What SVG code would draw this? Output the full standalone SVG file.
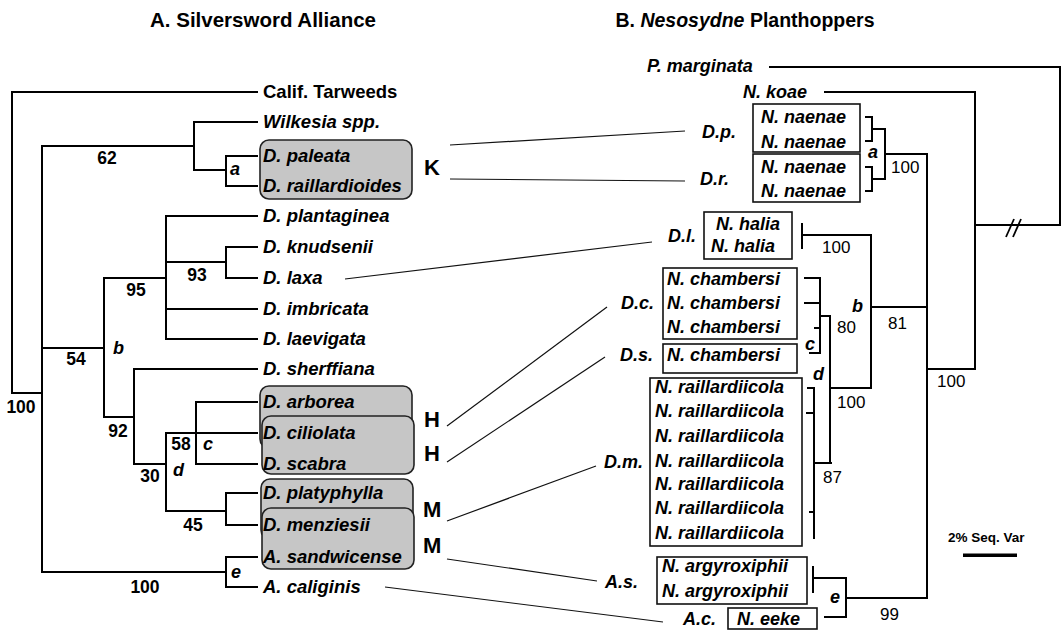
<svg xmlns="http://www.w3.org/2000/svg" width="1062" height="630" viewBox="0 0 1062 630">
<style>
text{font-family:"Liberation Sans",Arial,Helvetica,sans-serif;fill:#000}
.t{font-size:18.5px;font-weight:bold;font-style:italic}
.tn{font-size:18.5px;font-weight:bold}
.r{font-size:18px;font-weight:bold;font-style:italic}
.num{font-size:17.5px;font-weight:bold}
.rn{font-size:17px}
.lt{font-size:18px;font-weight:bold;font-style:italic}
.big{font-size:22px;font-weight:bold}
.ttl{font-size:20.5px;font-weight:bold}
.ttlb{font-size:19.5px;font-weight:bold}
.tree{fill:none;stroke:#000;stroke-width:2;stroke-linecap:square}
.conn{fill:none;stroke:#111;stroke-width:1.2}
.gbox{fill:#c6c6c6;stroke:#222;stroke-width:1.6}
.wbox{fill:#fff;stroke:#111;stroke-width:1.6}
</style>
<rect width="1062" height="630" fill="#fff"/>
<g id="titles">
<text class="ttl" x="263" y="27" text-anchor="middle">A. Silversword Alliance</text>
<text class="ttlb" x="745" y="27" text-anchor="middle">B. <tspan font-style="italic">Nesosydne</tspan> Planthoppers</text>
</g>
<g id="left-boxes">
<rect id="boxK" class="gbox" x="260" y="140" width="152" height="59" rx="9"/>
<rect id="boxH1" class="gbox" x="260" y="386" width="152" height="62" rx="9"/>
<rect id="boxH2" class="gbox" x="262" y="416" width="152" height="58" rx="9"/>
<rect id="boxM1" class="gbox" x="261" y="479" width="152" height="60" rx="9"/>
<rect id="boxM2" class="gbox" x="262" y="508" width="152" height="61" rx="9"/>
</g>
<g id="left-tree" class="tree">
<path d="M12 92V393M12 92H257M12 393H42M42 146V572"/>
<path d="M42 146H194M194 122V170M194 122H257M194 170H226M226 156V186M226 156H257M226 186H257"/>
<path d="M42 348H104M104 278V417M104 278H166M166 216V339M166 216H257M166 309H257M166 339H257M166 262H226M226 247V278M226 247H257M226 278H257"/>
<path d="M104 417H134M134 369V464M134 369H257M134 464H166M166 433V511M166 433H257M196 402V464M196 402H257M196 464H257M166 511H226M226 493V525M226 493H257M226 525H257"/>
<path d="M42 572H226M226 557V587M226 557H257M226 587H257"/>
</g>
<g id="left-labels">
<g id="calif"><text class="tn" x="263" y="98">Calif. Tarweeds</text></g>
<g id="wilkesia"><text class="t" x="263" y="128">Wilkesia spp.</text></g>
<g id="paleata"><text class="t" x="263" y="162">D. paleata</text></g>
<g id="raillardioides"><text class="t" x="263" y="192">D. raillardioides</text></g>
<g id="plantaginea"><text class="t" x="263" y="222">D. plantaginea</text></g>
<g id="knudsenii"><text class="t" x="263" y="253">D. knudsenii</text></g>
<g id="laxa"><text class="t" x="263" y="284">D. laxa</text></g>
<g id="imbricata"><text class="t" x="263" y="315">D. imbricata</text></g>
<g id="laevigata"><text class="t" x="263" y="345">D. laevigata</text></g>
<g id="sherffiana"><text class="t" x="263" y="375">D. sherffiana</text></g>
<g id="arborea"><text class="t" x="263" y="408">D. arborea</text></g>
<g id="ciliolata"><text class="t" x="263" y="439">D. ciliolata</text></g>
<g id="scabra"><text class="t" x="263" y="470">D. scabra</text></g>
<g id="platyphylla"><text class="t" x="263" y="499">D. platyphylla</text></g>
<g id="menziesii"><text class="t" x="263" y="531">D. menziesii</text></g>
<g id="sandwicense"><text class="t" x="263" y="563">A. sandwicense</text></g>
<g id="caliginis"><text class="t" x="263" y="593">A. caliginis</text></g>
</g>
<g id="left-support">
<text class="num" x="107" y="164" text-anchor="middle">62</text>
<text class="num" x="197" y="281" text-anchor="middle">93</text>
<text class="num" x="136" y="296" text-anchor="middle">95</text>
<text class="num" x="76" y="365" text-anchor="middle">54</text>
<text class="num" x="21" y="413" text-anchor="middle">100</text>
<text class="num" x="118" y="437" text-anchor="middle">92</text>
<text class="num" x="181" y="450" text-anchor="middle">58</text>
<text class="num" x="150" y="482" text-anchor="middle">30</text>
<text class="num" x="193" y="531" text-anchor="middle">45</text>
<text class="num" x="145" y="593" text-anchor="middle">100</text>
<text class="lt" x="230" y="175">a</text>
<text class="lt" x="113" y="354">b</text>
<text class="lt" x="203" y="450">c</text>
<text class="lt" x="173" y="476">d</text>
<text class="lt" x="231" y="578">e</text>
</g>
<g id="island-labels">
<g id="K"><text class="big" x="424" y="175">K</text></g>
<g id="H1"><text class="big" x="424" y="427">H</text></g>
<g id="H2"><text class="big" x="424" y="461">H</text></g>
<g id="M1"><text class="big" x="423" y="517">M</text></g>
<g id="M2"><text class="big" x="423" y="553">M</text></g>
</g>
<g id="connectors" class="conn">
<line x1="450" y1="145" x2="685" y2="131"/>
<line x1="450" y1="179" x2="685" y2="181"/>
<line x1="345" y1="279" x2="652" y2="242"/>
<line x1="447" y1="426" x2="607" y2="307"/>
<line x1="447" y1="462" x2="605" y2="357"/>
<line x1="447" y1="521" x2="596" y2="466"/>
<line x1="447" y1="559" x2="597" y2="581"/>
<line x1="385" y1="587" x2="663" y2="622"/>
</g>
<g id="right-boxes">
<rect id="bNaen1" class="wbox" x="753" y="104" width="107" height="48"/>
<rect id="bNaen2" class="wbox" x="753" y="154" width="107" height="48"/>
<rect id="bHalia" class="wbox" x="704" y="212" width="88" height="47"/>
<rect id="bCham1" class="wbox" x="663" y="268" width="134" height="71"/>
<rect id="bCham2" class="wbox" x="663" y="344" width="134" height="29"/>
<rect id="bRail" class="wbox" x="650" y="378" width="152" height="168"/>
<rect id="bArg" class="wbox" x="657" y="557" width="150" height="47"/>
<rect id="bEeke" class="wbox" x="728" y="608" width="89" height="21"/>
</g>
<g id="right-tree" class="tree">
<path d="M770 67H1060V225M975 225H1060M825 92H975V369M927 369H975M927 154V598"/>
<path d="M885 154H927M885 129V179M872 129H885M872 179H885M866 117H872V141H866M866 167H872V191H866"/>
<path d="M802 224V248M802 235H871V388M871 307H927M830 388H871M830 316V463M820 316H830M820 278V353M805 278H820M805 303H820M815 328H820M810 353H820"/>
<path d="M814 388V538M808 388H814M807 413H814M810 512H814M814 463H831"/>
<path d="M813 567V592M813 578H846V617M825 617H846M846 598H927"/>
</g>
<g id="break" fill="none" stroke="#000" stroke-width="1.8">
<line x1="1006" y1="237" x2="1014" y2="219"/>
<line x1="1013" y1="237" x2="1021" y2="219"/>
</g>
<g id="right-labels">
<g id="pmarginata"><text class="r" x="647" y="72">P. marginata</text></g>
<g id="nkoae"><text class="r" x="743" y="98">N. koae</text></g>
<g id="naenae"><text class="r" x="761" y="123">N. naenae</text><text class="r" x="761" y="148">N. naenae</text><text class="r" x="761" y="173">N. naenae</text><text class="r" x="761" y="197">N. naenae</text></g>
<g id="halia"><text class="r" x="716" y="230">N. halia</text><text class="r" x="711" y="252">N. halia</text></g>
<g id="chambersi"><text class="r" x="667" y="285">N. chambersi</text><text class="r" x="667" y="309">N. chambersi</text><text class="r" x="667" y="333">N. chambersi</text><text class="r" x="667" y="361">N. chambersi</text></g>
<g id="raillardiicola"><text class="r" x="655" y="393">N. raillardiicola</text><text class="r" x="655" y="417">N. raillardiicola</text><text class="r" x="655" y="442">N. raillardiicola</text><text class="r" x="655" y="467">N. raillardiicola</text><text class="r" x="655" y="490">N. raillardiicola</text><text class="r" x="655" y="514">N. raillardiicola</text><text class="r" x="655" y="539">N. raillardiicola</text></g>
<g id="argyroxiphii"><text class="r" x="662" y="572">N. argyroxiphii</text><text class="r" x="662" y="597">N. argyroxiphii</text></g>
<g id="eeke"><text class="r" x="737" y="625">N. eeke</text></g>
<g id="hosts"><text class="r" x="702" y="138">D.p.</text><text class="r" x="700" y="185">D.r.</text><text class="r" x="668" y="242">D.l.</text><text class="r" x="621" y="309">D.c.</text><text class="r" x="620" y="361">D.s.</text><text class="r" x="604" y="468">D.m.</text><text class="r" x="605" y="588">A.s.</text><text class="r" x="683" y="625">A.c.</text></g>
</g>
<g id="right-support">
<text class="rn" x="891" y="173">100</text>
<text class="rn" x="822" y="253">100</text>
<text class="rn" x="888" y="329">81</text>
<text class="rn" x="837" y="333">80</text>
<text class="rn" x="837" y="408">100</text>
<text class="rn" x="937" y="387">100</text>
<text class="rn" x="823" y="483">87</text>
<text class="rn" x="880" y="620">99</text>
<text class="lt" x="868" y="158">a</text>
<text class="lt" x="852" y="312">b</text>
<text class="lt" x="805" y="350">c</text>
<text class="lt" x="813" y="380">d</text>
<text class="lt" x="830" y="603">e</text>
</g>
<g id="scale">
<text x="948" y="542" font-size="13.5" font-weight="bold">2% Seq. Var</text>
<rect x="963" y="553.5" width="54" height="3.5" fill="#000"/>
</g>
</svg>
